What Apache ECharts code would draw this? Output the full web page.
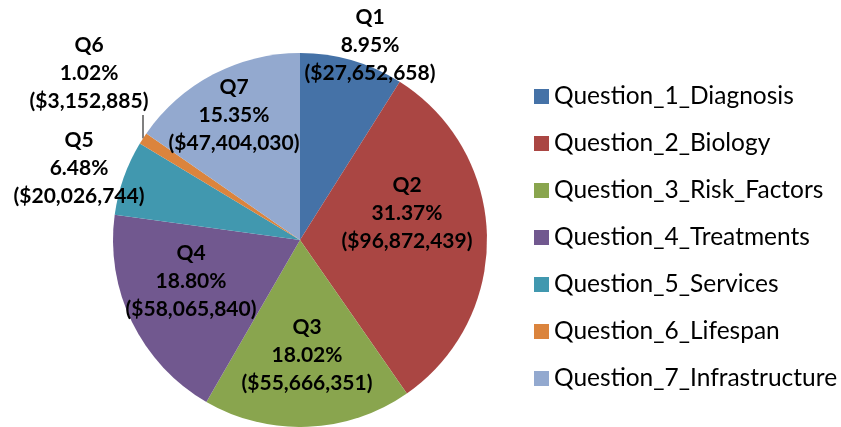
<!DOCTYPE html>
<html>
<head>
<meta charset="utf-8">
<script src="https://cdn.jsdelivr.net/npm/echarts@6/dist/echarts.min.js"></script>
<style>
  html, body { margin: 0; padding: 0; background: #fff; }
  #main { width: 841px; height: 427px; }
</style>
</head>
<body>
<div id="main"></div>
<script>
// slice data
const names = [
  "Question_1_Diagnosis",
  "Question_2_Biology",
  "Question_3_Risk_Factors",
  "Question_4_Treatments",
  "Question_5_Services",
  "Question_6_Lifespan",
  "Question_7_Infrastructure",
];
const shortNames = ["Q1", "Q2", "Q3", "Q4", "Q5", "Q6", "Q7"];
const amounts = [27652658, 96872439, 55666351, 58065840, 20026744, 3152885, 47404030];
const percents = ["8.95%", "31.37%", "18.02%", "18.80%", "6.48%", "1.02%", "15.35%"];
const colors = ["#4572a7", "#aa4643", "#89a54e", "#71588f", "#4198af", "#db843d", "#93a9cf"];

// where each label block sits (centre of the text)
const labelSpots = [
  [370, 45], [407, 213], [307, 355], [191, 281], [79, 168], [89, 73], [234, 115],
];

function money(v) {
  return "($" + v.toLocaleString("en-US") + ")";
}

const chart = echarts.init(document.getElementById("main"));

const option = {
  animation: false,
  color: colors,
  legend: {
    orient: "vertical",
    left: 529,
    top: 79,
    itemWidth: 15,
    itemHeight: 15,
    itemGap: 22,
    icon: "rect",
    textStyle: {
      fontFamily: "Lato",
      fontSize: 24.5,
      lineHeight: 20,
      color: "#000",
    },
    data: names,
  },
  series: [
    {
      type: "pie",
      center: [300, 240],
      radius: 187,
      startAngle: 90,
      clockwise: true,
      label: {
        show: true,
        position: "inside",
        fontFamily: "Lato",
        fontWeight: "bold",
        fontSize: 21,
        lineHeight: 28,
        color: "#000",
        formatter: (p) => shortNames[p.dataIndex] + "\n" + percents[p.dataIndex] + "\n" + money(p.value),
      },
      labelLine: { show: false },
      labelLayout: (p) => {
        const spot = labelSpots[p.dataIndex];
        const out = { x: spot[0], y: spot[1], align: "center", verticalAlign: "middle" };
        // Q6: short vertical leader from the slice edge up to the label
        if (p.labelLinePoints) {
          const edge = p.labelLinePoints[0];
          out.labelLinePoints = [edge, [edge[0], spot[1] + 42]];
        }
        return out;
      },
      data: names.map((n, i) => {
        const item = { name: n, value: amounts[i] };
        if (i === 5) {
          item.label = { position: "outside" };
          item.labelLine = { show: true, length: 10, length2: 0, lineStyle: { color: "#000", width: 1 } };
        }
        return item;
      }),
    },
  ],
};

chart.setOption(option);
window.onresize = function () {
  chart.resize();
};
</script>
</body>
</html>
